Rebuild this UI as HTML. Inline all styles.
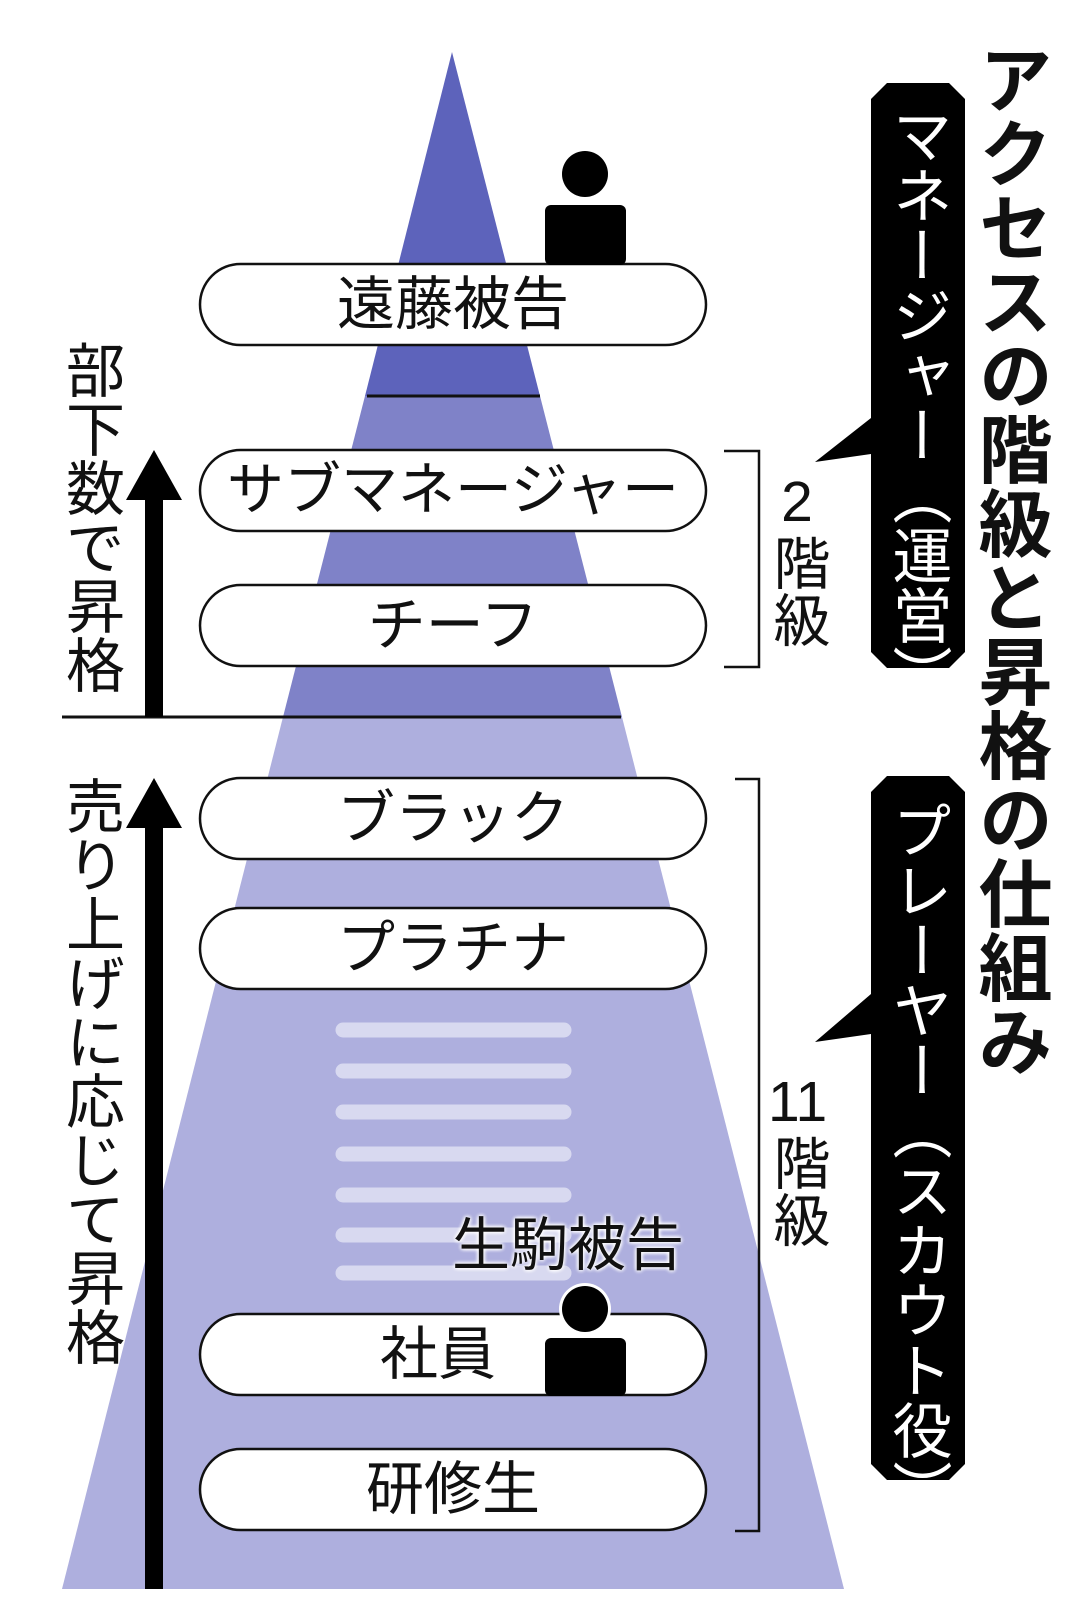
<!DOCTYPE html>
<html><head><meta charset="utf-8"><style>
body{margin:0;background:#fff;}
#w{position:relative;width:1079px;height:1617px;overflow:hidden;font-family:"Liberation Sans","Noto Sans CJK JP",sans-serif;}
.v{position:absolute;writing-mode:vertical-rl;text-orientation:upright;line-height:1;white-space:nowrap;}
.p{position:absolute;left:200px;width:506px;height:81px;line-height:81px;text-align:center;font-size:58px;color:#111;}
</style></head><body><div id="w">
<svg width="1079" height="1617" style="position:absolute;left:0;top:0">
<polygon points="452,52 365,396 540,396" fill="#5d63bb"/>
<polygon points="365,396 540,396 622,717 283,717" fill="#7f82c8"/>
<polygon points="283,717 622,717 844,1589 62,1589" fill="#aeafde"/>
<line x1="367" y1="396" x2="540" y2="396" stroke="#111" stroke-width="3"/>
<line x1="62" y1="717" x2="621" y2="717" stroke="#111" stroke-width="3"/>
<g stroke="#d8d9f0" stroke-width="15" stroke-linecap="round">
<line x1="343" y1="1030" x2="564" y2="1030"/><line x1="343" y1="1071" x2="564" y2="1071"/>
<line x1="343" y1="1112" x2="564" y2="1112"/><line x1="343" y1="1154" x2="564" y2="1154"/>
<line x1="343" y1="1195" x2="564" y2="1195"/><line x1="343" y1="1235" x2="564" y2="1235"/>
<line x1="343" y1="1273" x2="564" y2="1273"/></g>
<g fill="#fff" stroke="#111" stroke-width="2.5">
<rect x="200" y="264" width="506" height="81" rx="40.5"/>
<rect x="200" y="450" width="506" height="81" rx="40.5"/>
<rect x="200" y="585" width="506" height="81" rx="40.5"/>
<rect x="200" y="778" width="506" height="81" rx="40.5"/>
<rect x="200" y="908" width="506" height="81" rx="40.5"/>
<rect x="200" y="1314" width="506" height="81" rx="40.5"/>
<rect x="200" y="1449" width="506" height="81" rx="40.5"/>
</g>
<circle cx="585" cy="174" r="23" fill="#000"/>
<rect x="545" y="205" width="81" height="60" rx="6" fill="#000"/>
<circle cx="585" cy="1309" r="26" fill="#fff"/>
<circle cx="585" cy="1309" r="23" fill="#000"/>
<rect x="545" y="1338" width="81" height="58" rx="6" fill="#000"/>
<rect x="145" y="495" width="18" height="222" fill="#000"/>
<polygon points="154,450 126,500 182,500" fill="#000"/>
<rect x="145" y="825" width="18" height="764" fill="#000"/>
<polygon points="154,778 126,828 182,828" fill="#000"/>
<polyline points="724,451 759,451 759,667 724,667" fill="none" stroke="#111" stroke-width="2.5"/>
<polyline points="735,779 759,779 759,1531 735,1531" fill="none" stroke="#111" stroke-width="2.5"/>
<polygon points="887,83 949,83 965,99 965,652 949,668 887,668 871,652 871,454 815,462 871,418 871,99" fill="#000"/>
<polygon points="887,776 949,776 965,792 965,1464 949,1480 887,1480 871,1464 871,1034 815,1042 871,994 871,792" fill="#000"/>
</svg>
<div class="p" style="top:264px">遠藤被告</div>
<div class="p" style="top:450px;font-size:57px">サブマネージャー</div>
<div class="p" style="top:585px">チーフ</div>
<div class="p" style="top:778px">ブラック</div>
<div class="p" style="top:908px">プラチナ</div>
<div class="p" style="top:1314px;left:185px">社員</div>
<div class="p" style="top:1449px">研修生</div>
<div style="position:absolute;left:452px;top:1217px;font-size:58px;line-height:1;color:#111;text-shadow:0 0 4px #fff,0 0 4px #fff,0 0 4px #fff">生駒被告</div>
<div class="v" style="left:60px;top:340px;font-size:59px;color:#111">部下数で昇格</div>
<div class="v" style="left:60px;top:776px;font-size:59px;color:#111">売り上げに応じて昇格</div>
<div class="v" style="left:768px;top:470px;font-size:57px;color:#111">2階級</div>
<div style="position:absolute;left:768px;top:1074px;font-size:57px;line-height:1;color:#111;width:57px;text-align:center">11</div>
<div class="v" style="left:768px;top:1134px;font-size:57px;color:#111">階級</div>
<div class="v" style="left:887px;top:105px;font-size:60px;color:#fff">マネージャー（運営）</div>
<div class="v" style="left:887px;top:800px;font-size:60px;color:#fff">プレーヤー（スカウト役）</div>
<div class="v" style="left:972px;top:42px;font-size:74px;color:#111;font-weight:bold">アクセスの階級と昇格の仕組み</div>
</div></body></html>
